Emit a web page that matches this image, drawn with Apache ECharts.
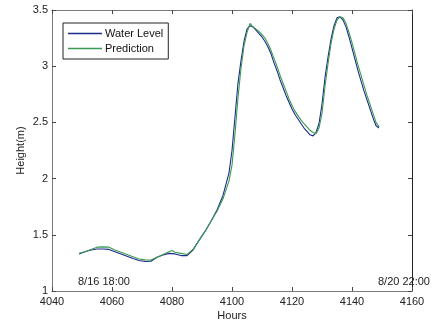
<!DOCTYPE html>
<html>
<head>
<meta charset="utf-8">
<script src="https://cdn.jsdelivr.net/npm/echarts@6/dist/echarts.min.js"></script>
<style>html,body{margin:0;padding:0;background:#fff;}#c{width:431px;height:326px;}</style>
</head>
<body>
<div id="c"></div>
<script>
const hoursWL = [4049,4051,4053,4055,4057,4059,4061,4063,4065,4067,4069,4071,4073,4075,4077,4079,4081,4083,4085,4087,4089,4091,4093,4095,4097,4099,4100,4101,4102,4103,4104,4105,4106,4107,4108,4109,4110,4111,4112,4113,4114,4115,4116,4117,4118,4119,4120,4121,4122,4123,4124,4125,4126,4127,4128,4129,4130,4131,4132,4133,4134,4135,4136,4137,4138,4139,4140,4141,4142,4143,4144,4145,4146,4147,4148,4149];
const waterLevel = [1.33,1.35,1.365,1.373,1.373,1.37,1.35,1.33,1.31,1.29,1.272,1.262,1.265,1.30,1.32,1.335,1.33,1.315,1.315,1.365,1.45,1.53,1.62,1.72,1.85,2.05,2.25,2.55,2.85,3.05,3.22,3.33,3.36,3.35,3.32,3.29,3.26,3.22,3.17,3.11,3.03,2.96,2.88,2.81,2.74,2.68,2.62,2.57,2.53,2.49,2.45,2.42,2.39,2.38,2.41,2.49,2.66,2.90,3.08,3.24,3.36,3.43,3.44,3.41,3.35,3.26,3.16,3.06,2.96,2.87,2.78,2.70,2.62,2.54,2.47,2.45];
const hoursPred = [4049,4051,4053,4055,4057,4059,4061,4063,4065,4067,4069,4071,4073,4075,4077,4079,4080,4081,4083,4085,4087,4089,4091,4093,4095,4097,4099,4100,4101,4102,4103,4104,4105,4106,4107,4108,4109,4110,4111,4112,4113,4114,4115,4116,4117,4118,4119,4120,4121,4122,4123,4124,4125,4126,4127,4128,4129,4130,4131,4132,4133,4134,4135,4136,4137,4138,4139,4140,4141,4142,4143,4144,4145,4146,4147,4148,4149];
const prediction = [1.335,1.35,1.37,1.39,1.393,1.39,1.365,1.345,1.325,1.305,1.285,1.277,1.275,1.30,1.325,1.35,1.36,1.345,1.335,1.325,1.37,1.45,1.53,1.62,1.71,1.82,1.98,2.12,2.40,2.72,2.98,3.18,3.30,3.38,3.35,3.33,3.31,3.28,3.25,3.20,3.14,3.07,3.00,2.92,2.85,2.78,2.71,2.65,2.60,2.56,2.52,2.49,2.46,2.43,2.41,2.40,2.45,2.58,2.82,3.02,3.20,3.33,3.41,3.44,3.43,3.38,3.30,3.21,3.11,3.01,2.92,2.83,2.74,2.66,2.58,2.50,2.46];
const xTicks = [4040,4060,4080,4100,4120,4140,4160];
const yTicks = [1,1.5,2,2.5,3,3.5];
const annotations = ['8/16 18:00','8/20 22:00'];

const FONT = 'Liberation Sans';
const chart = echarts.init(document.getElementById('c'), null, {renderer:'canvas'});
const axisGray = '#7a7a7a';
chart.setOption({
  animation:false,
  backgroundColor:'#fff',
  grid:{left:52,right:19,top:10,bottom:33},
  legend:{
    orient:'vertical', left:63, top:23,
    backgroundColor:'#fff', borderColor:'#222', borderWidth:1,
    padding:[5,5,5,5], itemGap:4, itemWidth:34, itemHeight:1.5,
    icon:'rect',
    textStyle:{fontFamily:FONT,fontSize:11,color:'#111',padding:[0,0,0,-2]},
    data:['Water Level','Prediction']
  },
  xAxis:[{
    type:'value', min:xTicks[0], max:xTicks[xTicks.length-1], interval:20,
    name:'Hours', nameLocation:'middle', nameGap:19, nameMoveOverlap:false,
    nameTextStyle:{fontFamily:FONT,fontSize:11,color:'#222'},
    axisLine:{show:true,lineStyle:{color:axisGray,width:1}},
    axisTick:{show:true,inside:true,length:4,lineStyle:{color:'#444'}},
    axisLabel:{fontFamily:FONT,fontSize:11,color:'#222',margin:5,formatter:v=>String(v)},
    splitLine:{show:false}
  },{
    type:'value', position:'top', min:xTicks[0], max:xTicks[xTicks.length-1], interval:20,
    axisLine:{show:true,lineStyle:{color:axisGray,width:1}},
    axisTick:{show:true,inside:true,length:4,lineStyle:{color:'#444'}},
    axisLabel:{show:false}, splitLine:{show:false}
  }],
  yAxis:[{
    type:'value', min:yTicks[0], max:yTicks[yTicks.length-1], interval:0.5,
    name:'Height(m)', nameLocation:'middle', nameGap:26, nameRotate:90, nameMoveOverlap:false,
    nameTextStyle:{fontFamily:FONT,fontSize:11,color:'#222'},
    axisLine:{show:true,lineStyle:{color:axisGray,width:1}},
    axisTick:{show:true,inside:true,length:4,lineStyle:{color:'#444'}},
    axisLabel:{fontFamily:FONT,fontSize:11,color:'#222',margin:4,formatter:v=>String(v)},
    splitLine:{show:false}
  },{
    type:'value', position:'right', min:yTicks[0], max:yTicks[yTicks.length-1], interval:0.5,
    axisLine:{show:true,lineStyle:{color:'#222',width:1}},
    axisTick:{show:true,inside:true,length:4,lineStyle:{color:'#444'}},
    axisLabel:{show:false}, splitLine:{show:false}
  }],
  series:[{
    name:'Water Level', type:'line', showSymbol:false, smooth:false,
    color:'#1c2a8a',
    lineStyle:{width:1.1,color:'#1c2a8a'},
    data:hoursWL.map((h,i)=>[h,waterLevel[i]])
  },{
    name:'Prediction', type:'line', showSymbol:false, smooth:false,
    color:'#3a9a55',
    lineStyle:{width:1.1,color:'#3a9a55'},
    data:hoursPred.map((h,i)=>[h,prediction[i]])
  }],
  graphic:[
    {type:'text', left:78, top:276, style:{text:annotations[0], font:'11px "Liberation Sans"', fill:'#222'}},
    {type:'text', left:378, top:276, style:{text:annotations[1], font:'11px "Liberation Sans"', fill:'#222'}}
  ]
});
</script>
</body>
</html>
